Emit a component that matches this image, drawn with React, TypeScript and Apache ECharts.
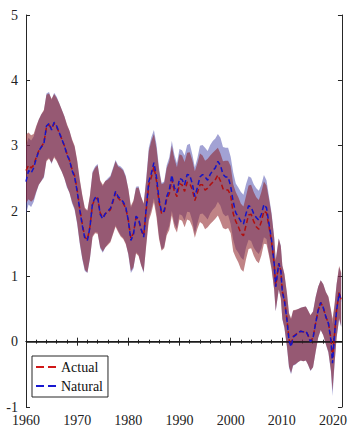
import React, { useEffect, useRef } from "react";
import * as echarts from "echarts";

const years = [
  1960.0, 1960.5, 1961.0, 1961.5, 1962.0, 1962.5, 1963.0, 1963.5, 1964.0, 1964.5,
  1965.0, 1965.5, 1966.0, 1966.5, 1967.0, 1967.5, 1968.0, 1968.5, 1969.0, 1969.5,
  1970.0, 1970.5, 1971.0, 1971.5, 1972.0, 1972.5, 1973.0, 1973.5, 1974.0, 1974.5,
  1975.0, 1975.5, 1976.0, 1976.5, 1977.0, 1977.5, 1978.0, 1978.5, 1979.0, 1979.5,
  1980.0, 1980.5, 1981.0, 1981.5, 1982.0, 1982.5, 1983.0, 1983.5, 1984.0, 1984.5,
  1985.0, 1985.5, 1986.0, 1986.5, 1987.0, 1987.5, 1988.0, 1988.5, 1989.0, 1989.5,
  1990.0, 1990.5, 1991.0, 1991.5, 1992.0, 1992.5, 1993.0, 1993.5, 1994.0, 1994.5,
  1995.0, 1995.5, 1996.0, 1996.5, 1997.0, 1997.5, 1998.0, 1998.5, 1999.0, 1999.5,
  2000.0, 2000.5, 2001.0, 2001.5, 2002.0, 2002.5, 2003.0, 2003.5, 2004.0, 2004.5,
  2005.0, 2005.5, 2006.0, 2006.5, 2007.0, 2007.5, 2008.0, 2008.5,
  2008.8, 2009.4, 2009.8, 2010.1, 2010.5, 2011.0, 2011.4, 2011.8, 2012.2, 2012.7,
  2013.2, 2013.7, 2014.2, 2014.7, 2015.1, 2015.6, 2016.1, 2016.6, 2017.1, 2017.6,
  2018.1, 2018.6, 2019.1, 2019.6, 2019.9, 2020.3, 2020.7, 2021.2, 2021.6,
];

const actual = [
  2.62, 2.70, 2.66, 2.70, 2.82, 2.92, 2.98, 3.05, 3.28, 3.32,
  3.26, 3.34, 3.28, 3.20, 3.10, 3.00, 2.88, 2.78, 2.64, 2.54,
  2.32, 2.04, 1.80, 1.60, 1.56, 1.76, 2.10, 2.18, 2.20, 1.97,
  1.90, 1.96, 1.98, 2.02, 2.14, 2.28, 2.20, 2.16, 2.12, 2.04,
  1.86, 1.58, 1.66, 1.90, 1.86, 1.72, 1.62, 2.02, 2.40, 2.52,
  2.68, 2.46, 2.14, 1.96, 1.98, 2.18, 2.26, 2.48, 2.30, 2.22,
  2.42, 2.40, 2.30, 2.44, 2.42, 2.33, 2.16, 2.28, 2.40, 2.40,
  2.32, 2.35, 2.40, 2.44, 2.48, 2.55, 2.46, 2.34, 2.32, 2.32,
  2.24, 1.96, 1.84, 1.76, 1.66, 1.62, 1.78, 1.94, 1.95, 1.84,
  1.76, 1.72, 1.84, 2.00, 1.97, 1.76, 1.52, 1.20,
  0.85, 1.20, 1.08, 0.77, 0.64, 0.35, 0.04, -0.06, 0.08, 0.11,
  0.14, 0.16, 0.15, 0.16, 0.10, 0.01, 0.06, 0.28, 0.48, 0.60,
  0.52, 0.38, 0.29, 0.04, -0.25, 0.12, 0.48, 0.76, 0.64,
];

const natural = [
  2.45, 2.62, 2.58, 2.66, 2.80, 2.92, 2.98, 3.03, 3.30, 3.34,
  3.24, 3.36, 3.30, 3.20, 3.10, 3.00, 2.86, 2.78, 2.62, 2.52,
  2.30, 2.02, 1.78, 1.58, 1.55, 1.75, 2.12, 2.20, 2.22, 1.95,
  1.88, 1.96, 2.00, 2.04, 2.16, 2.30, 2.22, 2.18, 2.14, 2.06,
  1.85, 1.55, 1.64, 1.92, 1.88, 1.72, 1.60, 2.05, 2.45, 2.58,
  2.74, 2.52, 2.18, 1.98, 2.00, 2.22, 2.32, 2.55, 2.36, 2.28,
  2.50, 2.48, 2.40, 2.56, 2.55, 2.42, 2.22, 2.36, 2.52, 2.56,
  2.52, 2.47, 2.56, 2.62, 2.66, 2.76, 2.70, 2.56, 2.52, 2.52,
  2.38, 2.14, 1.97, 1.91, 1.84, 1.80, 1.96, 2.08, 2.06, 1.96,
  1.90, 1.86, 1.95, 2.10, 2.05, 1.80, 1.55, 1.20,
  0.84, 1.20, 1.09, 0.76, 0.63, 0.33, 0.02, -0.08, 0.07, 0.10,
  0.14, 0.16, 0.15, 0.16, 0.10, 0.00, 0.06, 0.28, 0.48, 0.60,
  0.52, 0.38, 0.28, 0.02, -0.33, 0.10, 0.48, 0.74, 0.62,
];

// distance from each line to the top / bottom of its shaded band
const bandUp = [
  0.55, 0.5, 0.5, 0.48, 0.48, 0.48, 0.5, 0.5, 0.5, 0.48,
  0.46, 0.45, 0.45, 0.45, 0.45, 0.45, 0.45, 0.45, 0.46, 0.46,
  0.46, 0.45, 0.45, 0.45, 0.45, 0.48, 0.48, 0.48, 0.5, 0.5,
  0.5, 0.5, 0.5, 0.5, 0.5, 0.48, 0.48, 0.5, 0.5, 0.48,
  0.48, 0.5, 0.5, 0.45, 0.5, 0.5, 0.5, 0.45, 0.52, 0.55,
  0.5, 0.5, 0.48, 0.45, 0.45, 0.48, 0.5, 0.52, 0.5, 0.45,
  0.45, 0.45, 0.45, 0.45, 0.48, 0.45, 0.45, 0.45, 0.48, 0.45,
  0.45, 0.45, 0.45, 0.45, 0.45, 0.42, 0.42, 0.42, 0.45, 0.45,
  0.45, 0.45, 0.45, 0.45, 0.45, 0.45, 0.45, 0.45, 0.45, 0.45,
  0.45, 0.45, 0.45, 0.45, 0.42, 0.42, 0.42, 0.4,
  0.4, 0.38, 0.38, 0.4, 0.4, 0.4, 0.4, 0.42, 0.4, 0.38,
  0.36, 0.36, 0.38, 0.38, 0.38, 0.4, 0.4, 0.4, 0.36, 0.34,
  0.36, 0.38, 0.4, 0.45, 0.6, 0.45, 0.4, 0.4, 0.42,
];

const bandDown = [
  0.5, 0.52, 0.52, 0.52, 0.52, 0.52, 0.52, 0.52, 0.52, 0.52,
  0.52, 0.52, 0.52, 0.52, 0.5, 0.5, 0.5, 0.5, 0.5, 0.5,
  0.5, 0.52, 0.52, 0.5, 0.5, 0.48, 0.5, 0.52, 0.55, 0.52,
  0.52, 0.52, 0.5, 0.5, 0.5, 0.52, 0.52, 0.55, 0.55, 0.55,
  0.52, 0.5, 0.52, 0.55, 0.55, 0.55, 0.55, 0.55, 0.55, 0.55,
  0.55, 0.55, 0.57, 0.57, 0.55, 0.55, 0.55, 0.55, 0.55, 0.55,
  0.55, 0.55, 0.55, 0.57, 0.57, 0.57, 0.57, 0.55, 0.57, 0.6,
  0.6, 0.6, 0.6, 0.6, 0.6, 0.62, 0.62, 0.6, 0.6, 0.58,
  0.58, 0.58, 0.55, 0.55, 0.55, 0.55, 0.52, 0.52, 0.52, 0.52,
  0.52, 0.52, 0.52, 0.5, 0.48, 0.45, 0.42, 0.4,
  0.38, 0.4, 0.42, 0.42, 0.42, 0.42, 0.42, 0.42, 0.44, 0.45,
  0.45, 0.45, 0.45, 0.45, 0.45, 0.45, 0.45, 0.44, 0.42, 0.42,
  0.42, 0.42, 0.45, 0.48, 0.5, 0.45, 0.42, 0.4, 0.4,
];

const xTicks = [1960, 1970, 1980, 1990, 2000, 2010, 2020];
const yTicks = [-1, 0, 1, 2, 3, 4, 5];
const seriesNames = ["Actual", "Natural"];

const FONT = "serif";
const DASH_ICON = "path://M0,0 L8,0 L8,2 L0,2 Z M12,0 L20,0 L20,2 L12,2 Z";

export default function App() {
  const ref = useRef<HTMLDivElement>(null);

  useEffect(() => {
    document.body.style.margin = "0";
    if (!ref.current) return;
    const chart = echarts.init(ref.current, undefined, { renderer: "svg" });

    const bandSeries = (name: string, vals: number[], fill: string, opacity: number, z: number) => ({
      type: "custom",
      name,
      silent: true,
      clip: true,
      z,
      data: years.map((x, i) => [x, vals[i] - bandDown[i], vals[i] + bandUp[i]]),
      encode: { x: 0, y: [1, 2] },
      renderItem: (params: any, api: any) => {
        if (params.dataIndex !== 0) return null;
        const top = years.map((x, i) => api.coord([x, vals[i] + bandUp[i]]));
        const bottom = years.map((x, i) => api.coord([x, vals[i] - bandDown[i]])).reverse();
        return {
          type: "polygon",
          shape: { points: top.concat(bottom) },
          style: { fill, opacity },
        };
      },
    });

    const axisLine = { show: true, lineStyle: { color: "#262626", width: 1 } };
    const tickStyle = { inside: true, length: 4, lineStyle: { color: "#262626" } };
    const minor = { show: true, splitNumber: 5, length: 2, lineStyle: { color: "#262626" } };

    chart.setOption({
      animation: false,
      textStyle: { fontFamily: FONT },
      grid: { left: 26, right: 4, top: 15, bottom: 22 },
      legend: {
        data: seriesNames.map((n) => ({ name: n, icon: DASH_ICON })),
        orient: "vertical",
        left: 32,
        top: 356,
        backgroundColor: "#fff",
        borderColor: "#262626",
        borderWidth: 1,
        borderRadius: 0,
        padding: [4, 5, 4, 4],
        itemGap: 5,
        itemWidth: 20,
        itemHeight: 2,
        textStyle: { fontFamily: FONT, fontSize: 14, color: "#111" },
      },
      xAxis: [
        {
          type: "value",
          min: xTicks[0],
          max: 2021.75,
          interval: 10,
          axisLine,
          axisTick: tickStyle,
          minorTick: minor,
          splitLine: { show: false },
          axisLabel: {
            fontFamily: FONT,
            fontSize: 14,
            color: "#222",
            margin: 6,
            showMaxLabel: false,
            formatter: (v: number) => (xTicks.includes(v) ? String(v) : ""),
          },
        },
        {
          type: "value",
          position: "top",
          min: xTicks[0],
          max: 2021.75,
          interval: 10,
          axisLine,
          axisTick: tickStyle,
          minorTick: minor,
          splitLine: { show: false },
          axisLabel: { show: false },
        },
      ],
      yAxis: [
        {
          type: "value",
          min: yTicks[0],
          max: yTicks[yTicks.length - 1],
          interval: 1,
          axisLine,
          axisTick: tickStyle,
          splitLine: { show: false },
          axisLabel: { fontFamily: FONT, fontSize: 14, color: "#222", margin: 8 },
        },
        {
          type: "value",
          position: "right",
          min: yTicks[0],
          max: yTicks[yTicks.length - 1],
          interval: 1,
          axisLine,
          axisTick: tickStyle,
          splitLine: { show: false },
          axisLabel: { show: false },
        },
      ],
      series: [
        bandSeries("naturalBand", natural, "rgb(70,70,170)", 0.5, 1),
        bandSeries("actualBand", actual, "rgb(140,30,35)", 0.55, 2),
        {
          type: "line",
          name: "Actual",
          symbol: "none",
          data: years.map((x, i) => [x, actual[i]]),
          color: "#d01818",
          lineStyle: { color: "#b01010", width: 1.5, type: [5, 3] },
          z: 5,
          markLine: {
            silent: true,
            symbol: "none",
            label: { show: false },
            lineStyle: { color: "#1a1a1a", width: 1.5, type: "solid" },
            data: [{ yAxis: 0 }],
          },
        },
        {
          type: "line",
          name: "Natural",
          symbol: "none",
          data: years.map((x, i) => [x, natural[i]]),
          color: "#1818d0",
          lineStyle: { color: "#1414c8", width: 1.5, type: [5, 3] },
          z: 6,
        },
      ],
    });

    return () => chart.dispose();
  }, []);

  return <div ref={ref} style={{ width: 350, height: 429 }} />;
}
